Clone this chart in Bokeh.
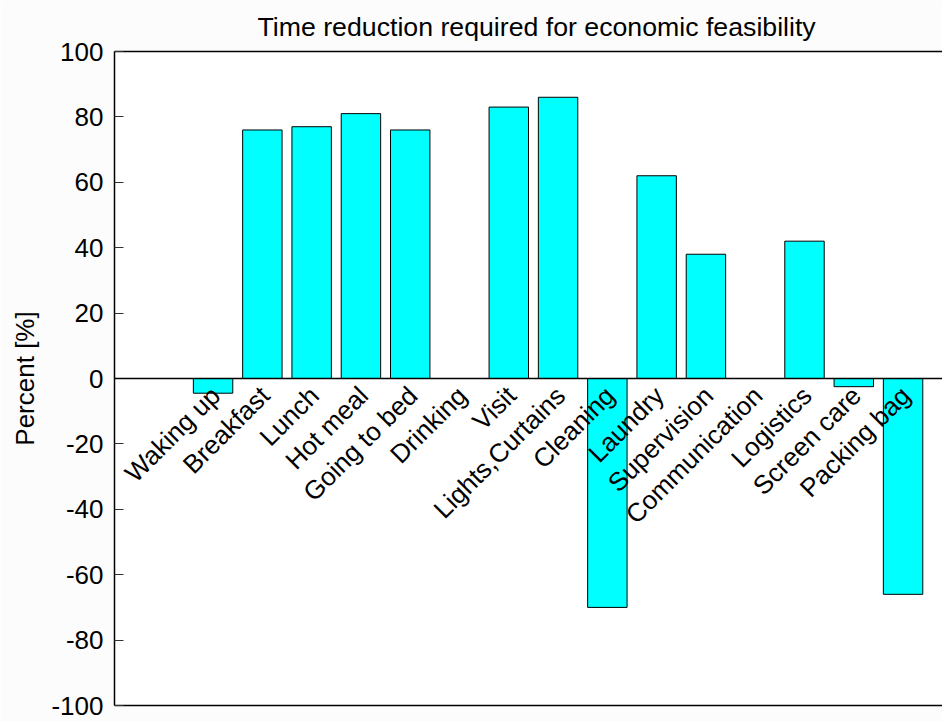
import numpy as np
from bokeh.plotting import figure
from bokeh.models import Range1d, FixedTicker, LinearAxis, Span, BoxAnnotation, ColumnDataSource
from bokeh.core.properties import value
from bokeh.embed import file_html
from bokeh.resources import INLINE

# ---- data ----
categories = ["Waking up", "Breakfast", "Lunch", "Hot meal", "Going to bed", "Drinking",
              "Visit", "Lights,Curtains", "Cleaning", "Laundry", "Supervision",
              "Communication", "Logistics", "Screen care", "Packing bag"]
percent = [-4.5, 76, 77, 81, 76, 0, 83, 86, -70, 62, 38, 0, 42, -2.5, -66]
y_ticks = [-100, -80, -60, -40, -20, 0, 20, 40, 60, 80, 100]
y_tick_labels = ["-100", "-80", "-60", "-40", "-20", "0", "20", "40", "60", "80", "100"]
title_text = "Time reduction required for economic feasibility"
y_label = "Percent [%]"

FONT = "Liberation Sans"
FS = "26px"
W, H = 942, 721
LEFT, TOP, BOTTOM = 114, 51, 16

xpos = list(range(1, len(categories) + 1))
src = ColumnDataSource(dict(x=xpos, top=percent, label=categories,
                            zero=[0] * len(categories)))

p = figure(width=W, height=H, output_backend="svg", toolbar_location=None,
           x_range=Range1d(-1, 15.80), y_range=Range1d(-100, 100),
           min_border_left=LEFT, min_border_right=0, min_border_top=TOP,
           min_border_bottom=BOTTOM)

p.border_fill_color = "#fcfcfc"
p.background_fill_color = "white"
p.outline_line_color = None
p.xgrid.visible = False
p.ygrid.visible = False

# soft grey vignette in the left margin (styling only)
for j in range(10):
    x0 = j * 12
    x1 = min(x0 + 12, LEFT)
    xc = (x0 + x1) / 2
    for k in range(16):
        y0 = k * 46
        y1 = min(y0 + 46, H)
        yc = (y0 + y1) / 2
        fy = min(1.0, max(0.0, (yc - 70) / 380))
        g = int(round(252 - 18 * (1 - xc / 150) * fy))
        col = "#%02x%02x%02x" % (g, g, g)
        p.add_layout(BoxAnnotation(left=x0, right=x1, top=y0, bottom=y1,
                                   left_units="canvas", right_units="canvas",
                                   top_units="canvas", bottom_units="canvas",
                                   fill_color=col, fill_alpha=1.0, line_color=None,
                                   level="underlay"))
# light grey strip under the frame
p.add_layout(BoxAnnotation(left=LEFT, right=W, top=H - BOTTOM + 1, bottom=H,
                           left_units="canvas", right_units="canvas",
                           top_units="canvas", bottom_units="canvas",
                           fill_color="#f1f1f1", fill_alpha=1.0, line_color=None,
                           level="underlay"))

# title
p.title.text = title_text
p.title.text_font = FONT
p.title.text_font_size = "26.7px"
p.title.text_font_style = "normal"
p.title.text_color = "black"
p.title.align = "left"
p.title.offset = 143
p.title.standoff = 19

# bottom axis: only the frame line at -100
p.xaxis.ticker = FixedTicker(ticks=[])
p.xaxis.major_tick_in = 0
p.xaxis.major_tick_out = 0
p.xaxis.minor_tick_in = 0
p.xaxis.minor_tick_out = 0
p.xaxis.major_label_standoff = 0
p.xaxis.axis_line_width = 1.5
p.xaxis.axis_line_color = "black"

# top frame line
top_axis = LinearAxis(ticker=FixedTicker(ticks=[]), major_tick_in=0, major_tick_out=0,
                      minor_tick_in=0, minor_tick_out=0, major_label_standoff=0,
                      axis_line_width=1.5, axis_line_color="black")
p.add_layout(top_axis, "above")

# left axis
p.yaxis.ticker = FixedTicker(ticks=y_ticks)
p.yaxis.major_label_overrides = {t: s for t, s in zip(y_ticks, y_tick_labels)}
p.yaxis.major_tick_in = 9
p.yaxis.major_tick_out = 0
p.yaxis.minor_tick_in = 0
p.yaxis.minor_tick_out = 0
p.yaxis.major_tick_line_color = "#333333"
p.yaxis.axis_line_width = 1.5
p.yaxis.axis_line_color = "black"
p.yaxis.major_label_text_font = FONT
p.yaxis.major_label_text_font_size = FS
p.yaxis.major_label_text_color = "black"
p.yaxis.major_label_standoff = 11
p.yaxis.axis_label = y_label
p.yaxis.axis_label_text_font = FONT
p.yaxis.axis_label_text_font_size = FS
p.yaxis.axis_label_text_font_style = "normal"
p.yaxis.axis_label_text_color = "black"
p.yaxis.axis_label_standoff = 8

# bars
p.vbar(x="x", top="top", bottom=0, width=0.8, source=src,
       fill_color="#00ffff", line_color="black", line_width=1)

# zero line
p.add_layout(Span(location=0, dimension="width", line_color="black", line_width=1.5))

# category labels at the zero line, rotated 45 degrees
p.text(x="x", y="zero", text="label", source=src, angle=np.pi / 4,
       text_align="right", text_baseline="top", x_offset=-8, y_offset=2,
       text_font=value(FONT), text_font_size=FS, text_color="black")

open("out.html", "w").write(file_html(p, INLINE))
